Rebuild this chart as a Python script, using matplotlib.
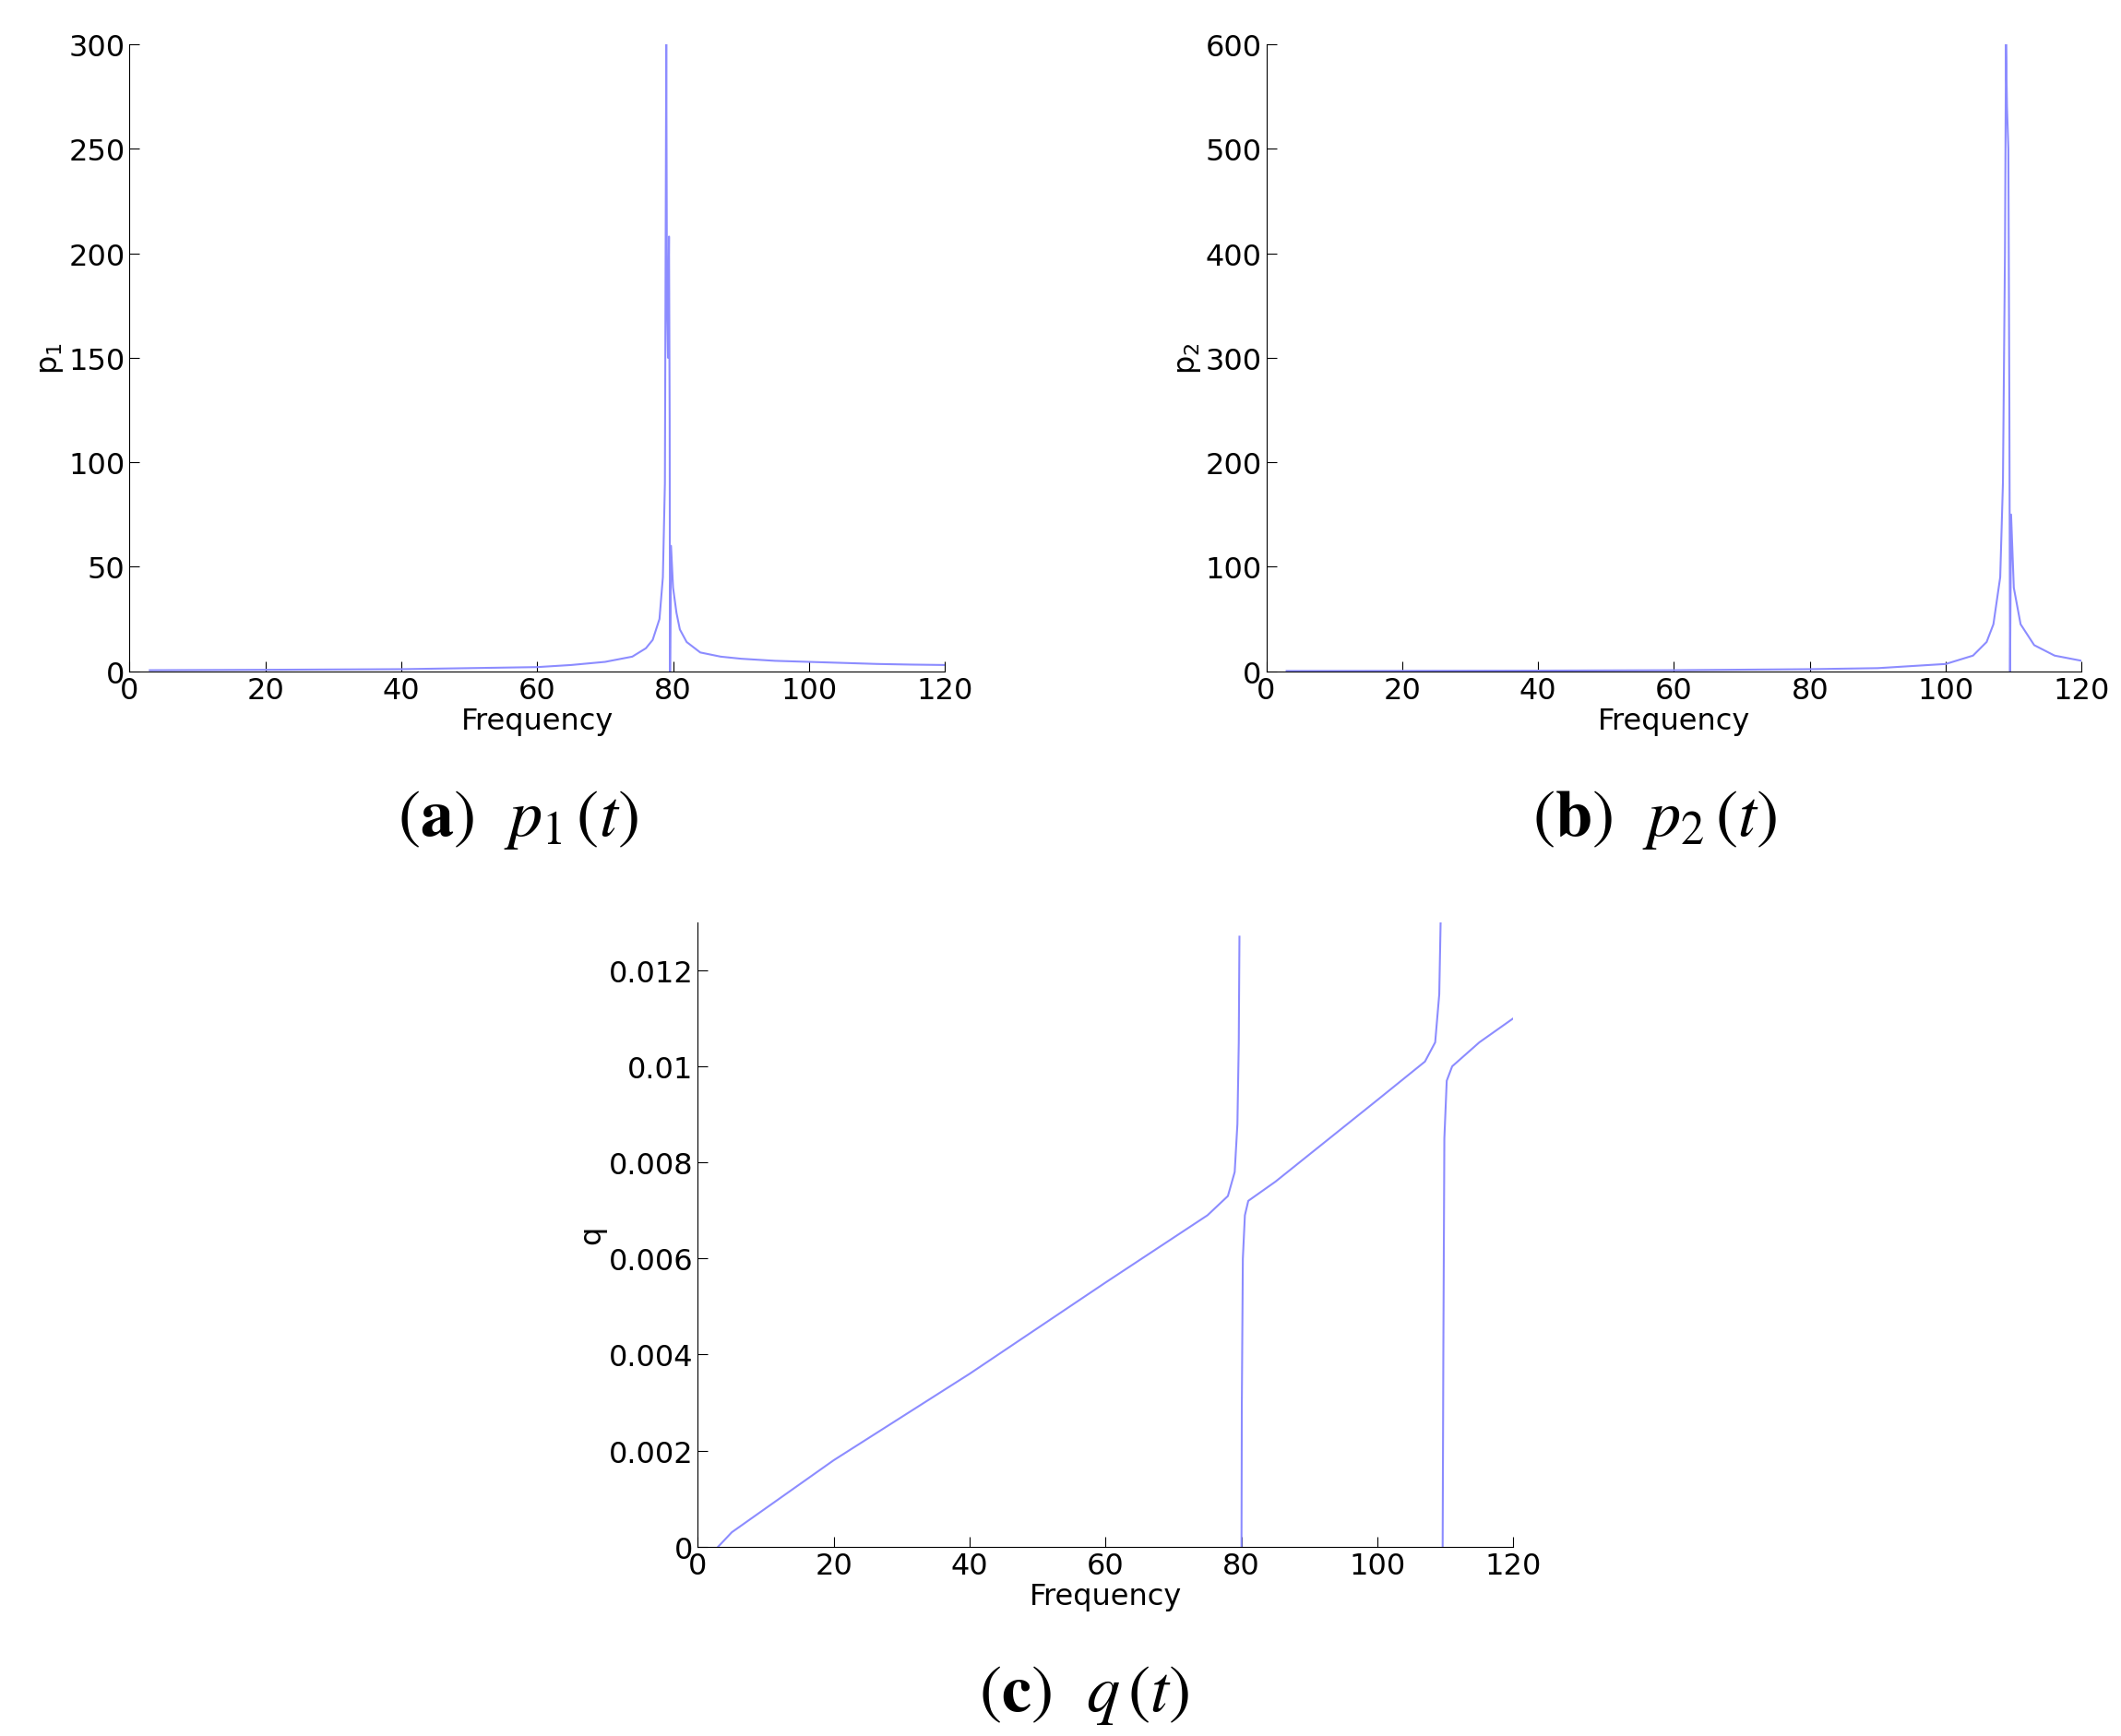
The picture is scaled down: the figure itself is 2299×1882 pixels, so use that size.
import numpy as np
import matplotlib.pyplot as plt

# values
f1 = [3, 20, 40, 50, 60, 65, 70, 74, 76, 77, 78, 78.5, 78.8, 79.0, 79.1, 79.25, 79.4, 79.5, 79.55, 79.7, 80, 80.5, 81, 82, 84, 87, 90, 95, 100, 105, 110, 115, 120]
p1 = [0.5, 0.7, 1.0, 1.5, 2, 3, 4.5, 7, 11, 15, 25, 45, 90, 300, 180, 150, 208, 120, 0, 60, 40, 28, 20, 14, 9, 7, 6, 5, 4.5, 4, 3.5, 3.2, 3]

f2 = [3, 20, 40, 60, 80, 90, 100, 104, 106, 107, 108, 108.4, 108.7, 108.85, 109.0, 109.2, 109.35, 109.45, 109.6, 110, 111, 113, 116, 120]
p2 = [0.3, 0.4, 0.6, 1, 2, 3, 7, 15, 28, 45, 90, 180, 400, 600, 540, 500, 250, 0, 150, 80, 45, 25, 15, 10]

fq1 = [3, 5, 10, 20, 40, 60, 75, 78, 79, 79.4, 79.6, 79.7]
q1 = [0, 0.0003, 0.0008, 0.0018, 0.0036, 0.0055, 0.0069, 0.0073, 0.0078, 0.0088, 0.0105, 0.0127]
fq2 = [80, 80.05, 80.2, 80.5, 81, 85, 100, 107, 108.5, 109.1, 109.3]
q2 = [0, 0.003, 0.006, 0.0069, 0.0072, 0.0076, 0.0093, 0.0101, 0.0105, 0.0115, 0.013]
fq3 = [109.6, 109.7, 109.85, 110.2, 111, 115, 120]
q3 = [0, 0.004, 0.0085, 0.0097, 0.0100, 0.0105, 0.011]

col = '#8c8cff'
xt = [0, 20, 40, 60, 80, 100, 120]

fig = plt.figure(figsize=(22.99, 18.83), dpi=100)

def style(ax, ylab):
    ax.spines['top'].set_visible(False)
    ax.spines['right'].set_visible(False)
    ax.tick_params(direction='in', labelsize=23, length=8)
    ax.set_xlim(0, 120)
    ax.set_xticks(xt)
    ax.set_xlabel('Frequency', fontsize=23, labelpad=2)
    ax.set_ylabel(ylab, fontsize=23, labelpad=2)

ax1 = fig.add_axes([0.061, 0.613, 0.3845, 0.361])
ax1.plot(f1, p1, color=col, lw=1.5)
ax1.set_ylim(0, 300)
style(ax1, 'p$_1$')

ax2 = fig.add_axes([0.597, 0.613, 0.3845, 0.361])
ax2.plot(f2, p2, color=col, lw=1.5)
ax2.set_ylim(0, 600)
style(ax2, 'p$_2$')

ax3 = fig.add_axes([0.329, 0.109, 0.3845, 0.3595])
ax3.plot(fq1, q1, color=col, lw=1.5)
ax3.plot(fq2, q2, color=col, lw=1.5)
ax3.plot(fq3, q3, color=col, lw=1.5)
ax3.set_ylim(0, 0.013)
ax3.set_yticks([0, 0.002, 0.004, 0.006, 0.008, 0.01, 0.012])
ax3.set_yticklabels(['0', '0.002', '0.004', '0.006', '0.008', '0.01', '0.012'])
style(ax3, 'q')

plt.rcParams['mathtext.fontset'] = 'stix'
cap = dict(fontsize=52, ha='center', va='center', family='STIXGeneral')
fig.text(0.244, 0.528, r'($\mathbf{a}$)  $p_1\,(t)$', **cap)
fig.text(0.78, 0.528, r'($\mathbf{b}$)  $p_2\,(t)$', **cap)
fig.text(0.511, 0.024, r'($\mathbf{c}$)  $q\,(t)$', **cap)

plt.savefig('out.png', dpi=100)
